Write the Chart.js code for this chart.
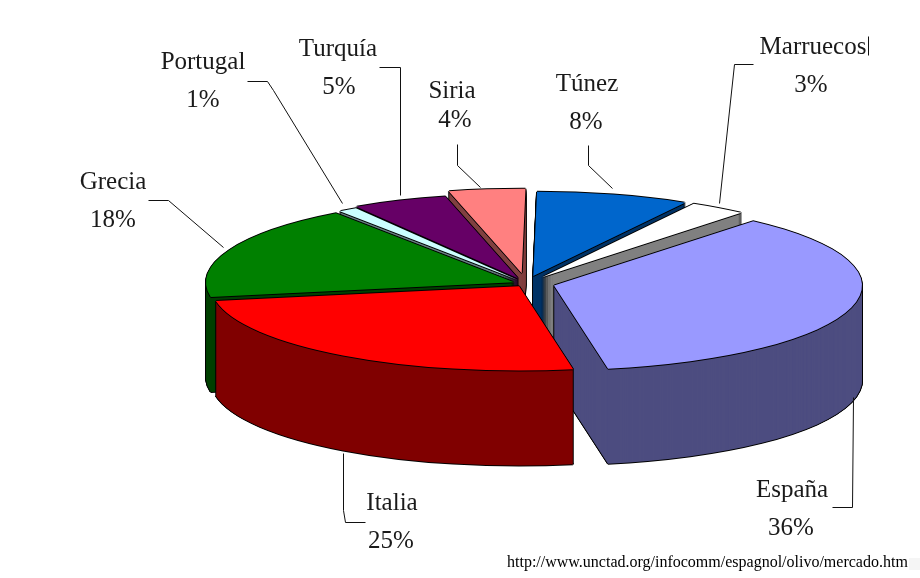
<!DOCTYPE html>
<html><head><meta charset="utf-8">
<script src="https://cdn.jsdelivr.net/npm/chart.js@4"></script>
<style>html,body{margin:0;padding:0;background:#fff;overflow:hidden}canvas{display:block}</style>
</head><body><canvas id="c" width="920" height="578"></canvas>
<script>
const categories = ['España','Italia','Grecia','Portugal','Turquía','Siria','Túnez','Marruecos'];
const shares = [36,25,18,1,5,4,8,3];
const topColors = ['#9999FF','#FF0000','#008000','#CCFFFF','#660066','#FF8080','#0066CC','#FFFFFF'];
const sideColors = ['#4D4D80','#800000','#004000','#668080','#330033','#804040','#003366','#808080'];
const sourceText = 'http://www.unctad.org/infocomm/espagnol/olivo/mercado.htm';

// presentation only
const explode = [29,12,13,15,20,38,28,28];
const drawOrder = [5,6,4,7,3,2,0,1];
const squash = 0.274, depth = 95;
const labelPos = [[792,490,791,528],[392,503,391,541],[113,182,113,220],[203,62,203,100],[338,49,339,87],[452,91,455,120],[587,84,586,122],[813,47,811,85]];
const leaders = [
 [[853,397],[852,507],[832,507]],
 [[343,453],[343,510],[345,522],[365,522]],
 [[148,200],[168,200],[223,247]],
 [[247,81],[267,81],[273,90],[342,203]],
 [[379,67],[400,67],[400,195]],
 [[457,144],[457,165],[480,187]],
 [[588,145],[588,165],[612,188]],
 [[753,64],[734,64],[719,203]],
 [[868,36],[868,55]]
];

function paint(ctx, arc, color, cx, cy, dx, dy, ex, ey){
  const saved = arc.options;
  arc.options = Object.assign({}, saved, {backgroundColor:color, borderWidth:0, offset:0});
  ctx.save();
  ctx.translate(dx, dy);
  ctx.translate(cx, cy); ctx.scale(1, squash); ctx.translate(-cx, -cy);
  ctx.translate(ex, ey);
  arc.draw(ctx);
  ctx.restore();
  arc.options = saved;
}
const pie3d = {
  id:'pie3d',
  beforeDatasetsDraw(chart){
    const ctx = chart.ctx, arcs = chart.getDatasetMeta(0).data;
    for(const i of drawOrder){
      const a = arcs[i], mid = (a.startAngle+a.endAngle)/2;
      const ex = Math.cos(mid)*explode[i], ey = Math.sin(mid)*explode[i];
      const cx = a.x, cy = a.y;
      // outline of the extruded body
      for(const [ox,oy] of [[-1,0],[1,0],[0,1],[0,-1]]){
        paint(ctx,a,'#000',cx,cy,ox,depth+oy,ex,ey);
      }
      for(let d=depth;d>=1;d--){
        paint(ctx,a,'#000',cx,cy,-1,d,ex,ey);
        paint(ctx,a,'#000',cx,cy,1,d,ex,ey);
      }
      for(let d=depth;d>=1;d--) paint(ctx,a,sideColors[i],cx,cy,0,d,ex,ey);
      // outline of the top face
      for(const [ox,oy] of [[-1,0],[1,0],[0,1],[0,-1]]){
        paint(ctx,a,'#000',cx,cy,ox,oy,ex,ey);
      }
      paint(ctx,a,topColors[i],cx,cy,0,0,ex,ey);
    }
    return false;
  },
  afterDraw(chart){
    const ctx = chart.ctx;
    ctx.save();
    ctx.fillStyle='#f5f5f5'; ctx.fillRect(909,558,11,12);
    ctx.strokeStyle='#111'; ctx.lineWidth=1;
    for(const l of leaders){
      ctx.beginPath();
      l.forEach(([x,y],k)=>k?ctx.lineTo(x+.5,y+.5):ctx.moveTo(x+.5,y+.5));
      ctx.stroke();
    }
    ctx.fillStyle='#1a1a1a'; ctx.textAlign='center'; ctx.textBaseline='middle';
    ctx.font='25px "Liberation Serif", serif';
    categories.forEach((name,i)=>{
      const p = labelPos[i];
      ctx.fillText(name,p[0],p[1]);
      ctx.fillText(shares[i]+'%',p[2],p[3]);
    });
    ctx.fillStyle='#000'; ctx.textAlign='left'; ctx.textBaseline='alphabetic';
    ctx.font='16px "Liberation Serif", serif';
    ctx.fillText(sourceText,507,567);
    ctx.restore();
  }
};
new Chart(document.getElementById('c'),{
  type:'pie',
  data:{labels:categories,datasets:[{data:shares,backgroundColor:topColors,borderWidth:0}]},
  options:{
    responsive:false,animation:false,rotation:40.3,radius:308,
    layout:{padding:{left:132,right:0,top:0,bottom:11}},
    plugins:{legend:{display:false},tooltip:{enabled:false}},
    events:[]
  },
  plugins:[pie3d]
});
</script></body></html>
